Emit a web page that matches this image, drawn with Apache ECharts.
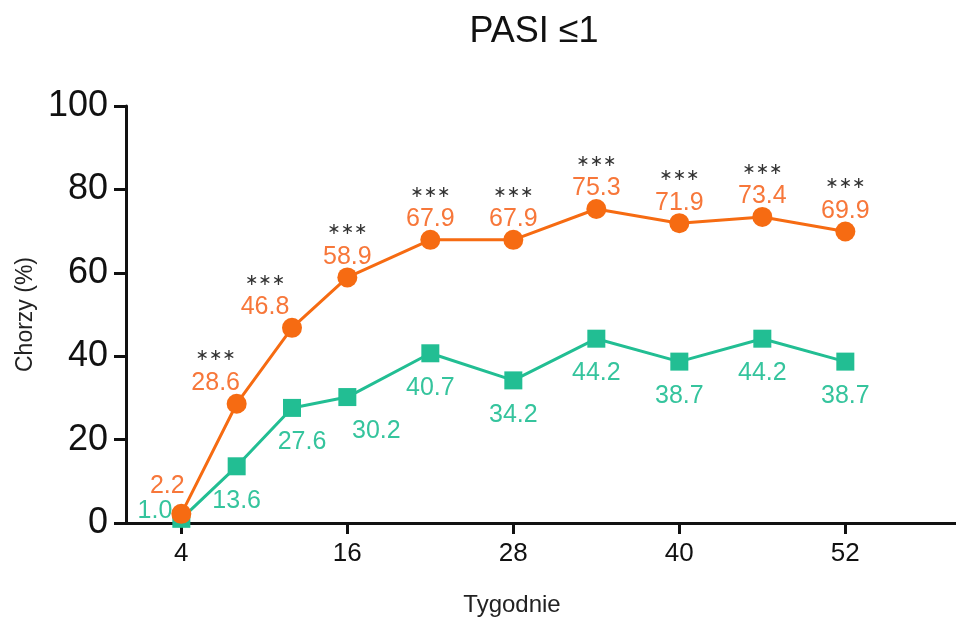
<!DOCTYPE html>
<html><head><meta charset="utf-8">
<script src="https://cdn.jsdelivr.net/npm/echarts@6/dist/echarts.min.js"></script>
<style>html,body{margin:0;padding:0;background:#fff}#c{width:956px;height:622px}</style>
</head><body><div id="c"></div>
<script>
const weeks = [4, 8, 12, 16, 22, 28, 34, 40, 46, 52];
const orangeValues = [2.2, 28.6, 46.8, 58.9, 67.9, 67.9, 75.3, 71.9, 73.4, 69.9];
const greenValues = [1.0, 13.6, 27.6, 30.2, 40.7, 34.2, 44.2, 38.7, 44.2, 38.7];
const significance = ['', '∗∗∗', '∗∗∗', '∗∗∗', '∗∗∗', '∗∗∗', '∗∗∗', '∗∗∗', '∗∗∗', '∗∗∗'];
const xTicks = [4, 16, 28, 40, 52];

const ORANGE = '#F66B12';
const GREEN = '#22BE93';
const FONT = "'Liberation Sans', Arial, sans-serif";

const orangeData = weeks.map((w, i) => {
  const d = { value: [w, orangeValues[i]] };
  if (i === 0) {
    d.label = { position: 'top', distance: 2, offset: [-14, -2], formatter: () => '{v|' + orangeValues[i].toFixed(1) + '}' };
  } else if (i === 1) {
    d.label = { offset: [-21, 0] };
  } else if (i === 2) {
    d.label = { offset: [-27, 0] };
  }
  return d;
});
const greenData = weeks.map((w, i) => {
  const d = { value: [w, greenValues[i]] };
  if (i === 0) {
    d.label = { position: 'left', distance: 2, offset: [2, -8] };
  } else if (i === 2) {
    d.label = { offset: [10, 0] };
  } else if (i === 3) {
    d.label = { offset: [29, 0] };
  }
  return d;
});

const chart = echarts.init(document.getElementById('c'));
chart.setOption({
  animation: false,
  title: {
    text: 'PASI ≤1', left: 529, top: 9, textAlign: 'center',
    textStyle: { fontFamily: FONT, fontSize: 36, fontWeight: 'normal', color: '#111' }
  },
  grid: { left: 126, right: 0, top: 106, bottom: 99 },
  xAxis: {
    type: 'value', min: 0, max: 60,
    name: 'Tygodnie', nameLocation: 'middle', nameGap: 70,
    nameTextStyle: { fontFamily: FONT, fontSize: 24, color: '#222', padding: [0, 58, 0, 0] },
    axisLine: { show: true, lineStyle: { color: '#111', width: 3 } },
    axisTick: { show: true, length: 11, lineStyle: { color: '#111', width: 3 },
      customValues: xTicks },
    axisLabel: { fontFamily: FONT, fontSize: 26, color: '#111', margin: 18, customValues: xTicks },
    splitLine: { show: false }
  },
  yAxis: {
    type: 'value', min: 0, max: 100, interval: 20,
    name: 'Chorzy (%)', nameLocation: 'middle', nameGap: 84, nameRotate: 90,
    nameTextStyle: { fontFamily: FONT, fontSize: 23, color: '#222' },
    axisLine: { show: true, lineStyle: { color: '#111', width: 3 } },
    axisTick: { show: true, length: 12, lineStyle: { color: '#111', width: 3 } },
    axisLabel: { fontFamily: FONT, fontSize: 36, color: '#111', margin: 18 },
    splitLine: { show: false }
  },
  series: [
    {
      type: 'line', data: greenData, z: 2,
      symbol: 'rect', symbolSize: 18,
      lineStyle: { color: GREEN, width: 3 }, itemStyle: { color: GREEN },
      label: { show: true, position: 'bottom', distance: 13, fontFamily: FONT, fontSize: 25, color: '#35C49D',
        formatter: p => p.value[1].toFixed(1) }
    },
    {
      type: 'line', data: orangeData, z: 3,
      symbol: 'circle', symbolSize: 20,
      lineStyle: { color: ORANGE, width: 3 }, itemStyle: { color: ORANGE },
      label: { show: true, position: 'top', distance: -3, fontFamily: FONT,
        formatter: p => '{s|' + significance[p.dataIndex] + '}\n{v|' + p.value[1].toFixed(1) + '}',
        rich: {
          s: { fontSize: 16, color: '#333', fontFamily: "'DejaVu Sans', sans-serif", lineHeight: 27 },
          v: { fontSize: 25, color: '#F7773A', fontFamily: FONT, lineHeight: 27 }
        }
      }
    }
  ]
});
</script></body></html>
